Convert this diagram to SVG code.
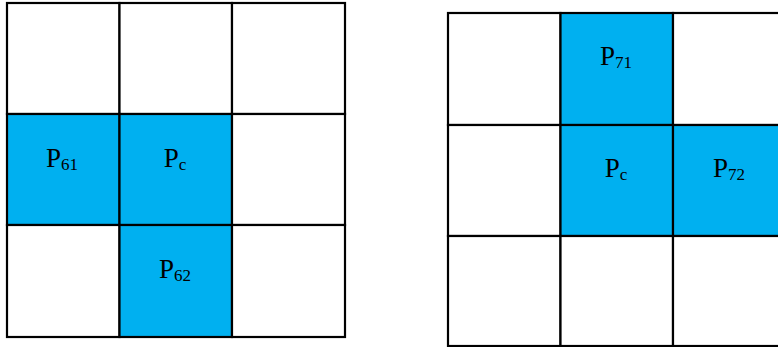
<svg xmlns="http://www.w3.org/2000/svg" width="778" height="347" viewBox="0 0 778 347">
<style>
.c{fill:#ffffff;stroke:#000;stroke-width:2.2}
.b{fill:#00B0F0;stroke:#000;stroke-width:2.2}
.t{font-family:"Liberation Serif","Times New Roman",serif;font-size:27px;fill:#000;text-anchor:middle}
.s{font-size:17px}
</style>
<rect width="778" height="347" fill="#fff"/>
<g id="left-grid">
<g id="L00"><rect class="c" x="7" y="3" width="112.5" height="111"/></g>
<g id="L01"><rect class="c" x="119.5" y="3" width="112.5" height="111"/></g>
<g id="L02"><rect class="c" x="232" y="3" width="113" height="111"/></g>
<g id="L10"><rect class="b" x="7" y="114" width="112.5" height="111"/><text class="t" x="62" y="167">P<tspan class="s" dy="3">61</tspan></text></g>
<g id="L11"><rect class="b" x="119.5" y="114" width="112.5" height="111"/><text class="t" x="175" y="167">P<tspan class="s" dy="3">c</tspan></text></g>
<g id="L12"><rect class="c" x="232" y="114" width="113" height="111"/></g>
<g id="L20"><rect class="c" x="7" y="225" width="112.5" height="112"/></g>
<g id="L21"><rect class="b" x="119.5" y="225" width="112.5" height="112"/><text class="t" x="175" y="278">P<tspan class="s" dy="3">62</tspan></text></g>
<g id="L22"><rect class="c" x="232" y="225" width="113" height="112"/></g>
</g>
<g id="right-grid">
<g id="R00"><rect class="c" x="448" y="13" width="112.5" height="112"/></g>
<g id="R01"><rect class="b" x="560.5" y="13" width="112.5" height="112"/><text class="t" x="616" y="65">P<tspan class="s" dy="3">71</tspan></text></g>
<g id="R02"><rect class="c" x="673" y="13" width="112.5" height="112"/></g>
<g id="R10"><rect class="c" x="448" y="125" width="112.5" height="111"/></g>
<g id="R11"><rect class="b" x="560.5" y="125" width="112.5" height="111"/><text class="t" x="616" y="177">P<tspan class="s" dy="3">c</tspan></text></g>
<g id="R12"><rect class="b" x="673" y="125" width="112.5" height="111"/><text class="t" x="729" y="177">P<tspan class="s" dy="3">72</tspan></text></g>
<g id="R20"><rect class="c" x="448" y="236" width="112.5" height="110"/></g>
<g id="R21"><rect class="c" x="560.5" y="236" width="112.5" height="110"/></g>
<g id="R22"><rect class="c" x="673" y="236" width="112.5" height="110"/></g>
</g>
</svg>
